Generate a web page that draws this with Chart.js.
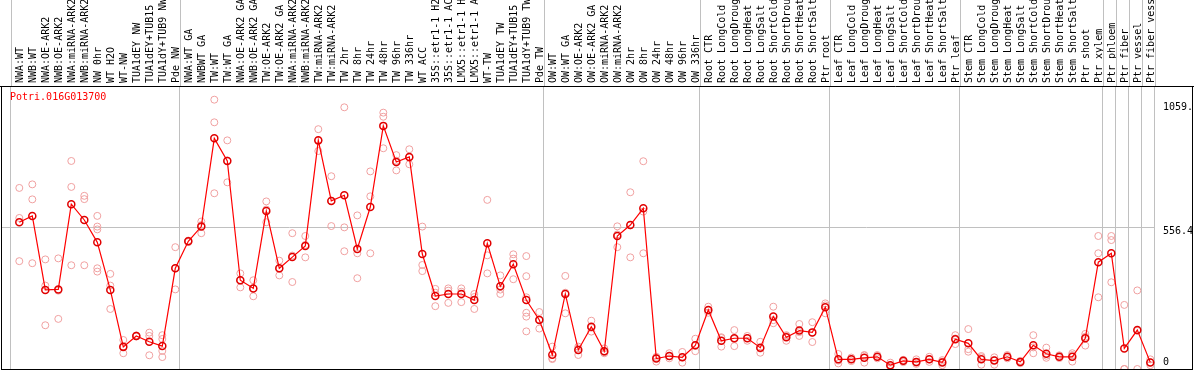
<!DOCTYPE html>
<html>
<head>
<meta charset="utf-8">
<script src="https://cdn.jsdelivr.net/npm/chart.js@4.4.0/dist/chart.umd.min.js"></script>
<style>
  html, body { margin: 0; padding: 0; background: #fff; }
</style>
</head>
<body>
<canvas id="myChart" width="1194" height="370"></canvas>
<script>
// ---- data --------------------------------------

const gene_name = "Potri.016G013700";

const labels = [
  "NWA:WT", "NWB:WT", "NWA:OE-ARK2", "NWB:OE-ARK2", "NWA:miRNA-ARK2", "NWB:miRNA-ARK2",
  "NW 0hr", "WT H2O", "WT-NW", "TUA1dEY NW", "TUA1dEY+TUB15 NW", "TUA1dY+TUB9 NW", "Pde NW",
  "NWA:WT GA", "NWBWT GA", "TW:WT", "TW:WT GA", "NWA:OE-ARK2 GA", "NWB:OE-ARK2 GA",
  "TW:OE-ARK2", "TW:OE-ARK2 GA", "NWA:miRNA-ARK2 GA", "NWB:miRNA-ARK2 GA", "TW:miRNA-ARK2",
  "TW:miRNA-ARK2 GA", "TW 2hr", "TW 8hr", "TW 24hr", "TW 48hr", "TW 96hr", "TW 336hr",
  "WT ACC", "35S::etr1-1 H2O", "35S::etr1-1 ACC", "LMX5::etr1-1 H2O", "LMX5::etr1-1 ACC",
  "WT-TW", "TUA1dEY TW", "TUA1dEY+TUB15 TW", "TUA1dY+TUB9 TW", "Pde TW",
  "OW:WT", "OW:WT GA", "OW:OE-ARK2", "OW:OE-ARK2 GA", "OW:miRNA-ARK2", "OW:miRNA-ARK2 GA",
  "OW 2hr", "OW 8hr", "OW 24hr", "OW 48hr", "OW 96hr", "OW 336hr",
  "Root CTR", "Root LongCold", "Root LongDrought", "Root LongHeat", "Root LongSalt",
  "Root ShortCold", "Root ShortDrought", "Root ShortHeat", "Root ShortSalt", "Ptr root",
  "Leaf CTR", "Leaf LongCold", "Leaf LongDrought", "Leaf LongHeat", "Leaf LongSalt",
  "Leaf ShortCold", "Leaf ShortDrought", "Leaf ShortHeat", "Leaf ShortSalt", "Ptr leaf",
  "Stem CTR", "Stem LongCold", "Stem LongDrought", "Stem LongHeat", "Stem LongSalt",
  "Stem ShortCold", "Stem ShortDrought", "Stem ShortHeat", "Stem ShortSalt", "Ptr shoot",
  "Ptr xylem", "Ptr phloem", "Ptr fiber", "Ptr vessel", "Ptr fiber vessel"
];

// mean expression per sample
const means = [
  577, 602, 311, 313, 648, 586, 498, 311, 87, 130, 107, 90, 396,
  502, 560, 907, 818, 349, 317, 621, 396, 440, 484, 899, 661, 683, 472, 637, 956, 814, 834,
  452, 287, 295, 295, 271, 494, 325, 412, 271, 193,
  56, 295, 75, 166, 70, 523, 566, 632, 41, 51, 46, 93,
  232, 111, 121, 121, 84, 206, 125, 151, 144, 243,
  38, 38, 44, 48, 15, 32, 28, 38, 26, 117,
  101, 38, 33, 48, 28, 93, 60, 48, 48, 121, 420,
  455, 81, 153, 26
];

// replicate values per sample
const reps = [
  [712, 594, 424], [726, 667, 416], [431, 328, 172], [435, 308, 197], [818, 716, 408],
  [681, 668, 408], [602, 560, 549, 396, 383], [374, 328, 236], [114, 84, 62], [128, 130, 132],
  [143, 130, 54], [133, 118, 71, 47], [479, 396, 313],
  [505, 502, 499], [580, 566, 534], [1059, 970, 691], [899, 820, 734], [376, 349, 321],
  [349, 317, 286], [659, 627, 577], [426, 394, 368], [534, 446, 342], [523, 488, 439],
  [943, 898, 857], [758, 662, 562], [1029, 557, 463], [604, 455, 357], [777, 679, 455],
  [1008, 992, 868], [841, 819, 781], [864, 832, 805],
  [560, 409, 385], [315, 300, 247], [317, 308, 260], [317, 304, 263], [295, 283, 236],
  [665, 447, 376], [368, 312, 295], [451, 434, 353], [444, 365, 282, 221, 206, 148], [224, 195, 159],
  [88, 42, 39], [366, 300, 219], [88, 81, 55], [190, 162, 147], [81, 66, 62], [561, 529, 479],
  [695, 565, 439], [817, 619, 455], [48, 44, 29], [62, 50, 42], [67, 46, 25], [119, 91, 70],
  [245, 230, 221], [125, 122, 88], [153, 118, 90], [130, 121, 111], [107, 80, 64],
  [245, 192, 180], [130, 133, 111], [177, 145, 130], [184, 143, 106], [258, 250, 219],
  [59, 33, 22], [45, 38, 31], [55, 53, 25], [55, 48, 42], [25, 10, 9],
  [36, 31, 27], [38, 25, 20], [48, 38, 28], [35, 29, 15], [133, 120, 98],
  [157, 78, 68], [51, 46, 17], [46, 35, 17], [55, 48, 42], [32, 27, 23],
  [133, 85, 62], [84, 52, 44], [54, 48, 43], [62, 55, 29], [138, 127, 92], [523, 455, 282],
  [523, 507, 341], [252, 0, 0], [309, 150, 0], [38, 26, 15]
];

// sample counts after which a group separator is drawn
const group_edges = [0, 13, 41, 53, 63, 73, 84, 85, 86, 87, 88];

const y_ticks = [0, 556.4, 1059];
const y_tick_labels = ["0", "556.4", "1059."];

// ---- chart --------------------------------------

const X_MIN = -0.4077;
const X_MAX = 88.3615;
const Y_MAX = 1112.8;
const mono = "'DejaVu Sans Mono', 'Liberation Mono', monospace";

let mean_points = means.map((v, i) => ({ x: i + 1, y: v }));
let rep_points = [];
reps.forEach((list, i) => {
  list.forEach((v) => rep_points.push({ x: i + 1, y: v }));
});

const frame_plugin = {
  id: "frame",
  afterDraw(chart) {
    let ctx = chart.ctx;
    let a = chart.chartArea;
    let xs = chart.scales.x;
    let ys = chart.scales.y;
    ctx.save();

    // separators carried up through the label band
    ctx.strokeStyle = "#c0c0c0";
    ctx.lineWidth = 1;
    xs.ticks.forEach((t) => {
      let px = Math.round(xs.getPixelForValue(t.value)) + 0.5;
      ctx.beginPath();
      ctx.moveTo(px, 0);
      ctx.lineTo(px, a.top);
      ctx.stroke();
    });

    // black box
    ctx.strokeStyle = "#000";
    ctx.beginPath();
    ctx.moveTo(0, a.top + 0.5);
    ctx.lineTo(chart.width, a.top + 0.5);
    ctx.moveTo(a.left + 0.5, a.top);
    ctx.lineTo(a.left + 0.5, chart.height);
    ctx.moveTo(chart.width - 1.5, a.top);
    ctx.lineTo(chart.width - 1.5, chart.height);
    ctx.moveTo(a.left, a.bottom + 0.5);
    ctx.lineTo(chart.width - 1, a.bottom + 0.5);
    ctx.stroke();

    // gene name
    ctx.font = "10px " + mono;
    ctx.fillStyle = "#ff0000";
    ctx.textAlign = "left";
    ctx.textBaseline = "alphabetic";
    ctx.fillText(gene_name, a.left + 9, a.top + 14);

    // value labels on the right, kept inside the box
    ctx.fillStyle = "#000";
    ctx.textBaseline = "middle";
    ys.ticks.forEach((t, i) => {
      let py = ys.getPixelForValue(t.value) + 4;
      py = Math.max(a.top + 21, Math.min(a.bottom - 7, py));
      ctx.fillText(y_tick_labels[i], ys.left + 8, py);
    });
    ctx.restore();
  }
};

new Chart("myChart", {
  type: "scatter",
  data: {
    datasets: [
      {
        data: mean_points,
        showLine: true,
        borderColor: "#ff0000",
        borderWidth: 1.2,
        pointRadius: 3.5,
        pointBorderWidth: 1.5,
        pointBorderColor: "#e00000",
        pointBackgroundColor: "rgba(0,0,0,0)",
        tension: 0,
        order: 0
      },
      {
        data: rep_points,
        showLine: false,
        pointRadius: 3.5,
        pointBorderWidth: 1,
        pointBorderColor: "#f0a0a0",
        pointBackgroundColor: "rgba(0,0,0,0)",
        order: 1
      }
    ]
  },
  options: {
    responsive: false,
    animation: false,
    devicePixelRatio: 1,
    layout: { autoPadding: false, padding: { left: 1, right: 1, top: 0, bottom: 1 } },
    plugins: {
      legend: { display: false },
      tooltip: { enabled: false }
    },
    scales: {
      x: {
        type: "linear",
        position: "bottom",
        bounds: "data",
        min: X_MIN,
        max: X_MAX,
        afterBuildTicks: (s) => {
          s.ticks = group_edges.map((k) => ({ value: k + 0.3385 }));
        },
        grid: { color: "#c0c0c0", drawTicks: false, lineWidth: 1 },
        border: { display: false },
        ticks: { display: false },
        afterFit: (s) => { s.height = 0; }
      },
      xt: {
        type: "linear",
        position: "top",
        bounds: "data",
        min: X_MIN,
        max: X_MAX,
        afterBuildTicks: (s) => {
          s.ticks = labels.map((l, i) => ({ value: i + 1 }));
        },
        grid: { display: false, drawTicks: false },
        border: { display: false },
        ticks: {
          autoSkip: false,
          minRotation: 90,
          maxRotation: 90,
          padding: 3,
          labelOffset: 13,
          color: "#000",
          font: { family: mono, size: 10 },
          callback: (v) => labels[Math.round(v) - 1]
        },
        afterFit: (s) => { s.height = 86; }
      },
      y: {
        position: "right",
        bounds: "data",
        min: 0,
        max: Y_MAX,
        afterBuildTicks: (s) => {
          s.ticks = y_ticks.map((v) => ({ value: v }));
        },
        grid: {
          drawTicks: false,
          color: (c) => (c.tick && c.tick.value === 556.4 ? "#c0c0c0" : "rgba(0,0,0,0)")
        },
        border: { display: false },
        ticks: { display: false },
        afterFit: (s) => { s.width = 38; }
      }
    }
  },
  plugins: [frame_plugin]
});
</script>
</body>
</html>
